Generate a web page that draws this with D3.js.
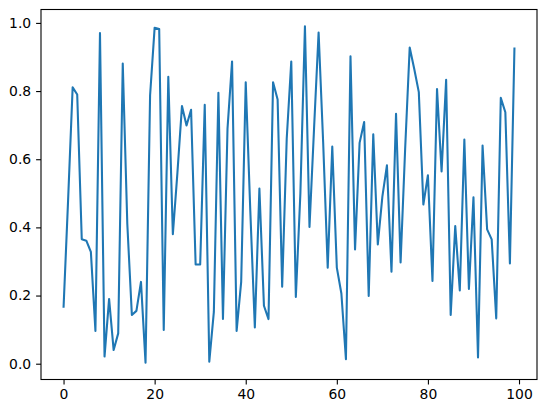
<!DOCTYPE html>
<html>
<head>
<meta charset="utf-8">
<script src="https://cdn.jsdelivr.net/npm/d3@7"></script>
<style>
  html, body { margin: 0; padding: 0; background: #fff; }
  svg { display: block; }
  text { font-family: "DejaVu Sans", sans-serif; font-size: 13.9px; fill: #000; }
</style>
</head>
<body>
<svg id="chart" width="547" height="413"></svg>
<script>
// Data (index 0..99)
const xValues = d3.range(100);
const yValues = [
  0.164, 0.48, 0.811, 0.790, 0.365, 0.361, 0.328, 0.096, 0.970, 0.021,
  0.190, 0.040, 0.089, 0.881, 0.41, 0.143, 0.155, 0.240, 0.003, 0.787,
  0.986, 0.982, 0.099, 0.842, 0.380, 0.56, 0.756, 0.699, 0.745, 0.291,
  0.291, 0.760, 0.006, 0.152, 0.795, 0.131, 0.69, 0.887, 0.096, 0.240,
  0.826, 0.45, 0.106, 0.514, 0.170, 0.131, 0.826, 0.775, 0.226, 0.66,
  0.887, 0.196, 0.50, 0.990, 0.401, 0.69, 0.972, 0.65, 0.282, 0.637,
  0.282, 0.206, 0.013, 0.902, 0.335, 0.648, 0.709, 0.199, 0.673, 0.350,
  0.49, 0.582, 0.270, 0.733, 0.297, 0.63, 0.928, 0.865, 0.797, 0.467,
  0.553, 0.243, 0.806, 0.564, 0.833, 0.143, 0.404, 0.215, 0.658, 0.219,
  0.488, 0.018, 0.640, 0.394, 0.365, 0.133, 0.780, 0.738, 0.294, 0.928
];
const xTicks = [0, 20, 40, 60, 80, 100];
const yTicks = [0.0, 0.2, 0.4, 0.6, 0.8, 1.0];

const mLeft = 41, mTop = 9.5, plotW = 496, plotH = 370;
const svg = d3.select("#chart");

function padded(ext) {
  const r = ext[1] - ext[0];
  return [ext[0] - 0.05 * r, ext[1] + 0.05 * r];
}
const x = d3.scaleLinear().domain(padded(d3.extent(xValues))).range([mLeft, mLeft + plotW]);
const y = d3.scaleLinear().domain(padded(d3.extent(yValues))).range([mTop + plotH, mTop]);

const line = d3.line().x((d, i) => x(xValues[i])).y(d => y(d));
svg.append("path")
  .datum(yValues)
  .attr("d", line)
  .attr("fill", "none")
  .attr("stroke", "#1f77b4")
  .attr("stroke-width", 2.08)
  .attr("stroke-linejoin", "round")
  .attr("stroke-linecap", "butt");

// frame
svg.append("rect")
  .attr("x", mLeft).attr("y", mTop).attr("width", plotW).attr("height", plotH)
  .attr("fill", "none").attr("stroke", "#000").attr("stroke-width", 1.1);

const xAxis = d3.axisBottom(x).tickValues(xTicks).tickSize(4.9).tickPadding(4.9).tickFormat(d3.format("d"));
const gx = svg.append("g").attr("transform", `translate(0,${mTop + plotH})`).call(xAxis);
const yAxis = d3.axisLeft(y).tickValues(yTicks).tickSize(4.9).tickPadding(4.9).tickFormat(d3.format(".1f"));
const gy = svg.append("g").attr("transform", `translate(${mLeft},0)`).call(yAxis);

[gx, gy].forEach(g => {
  g.select(".domain").remove();
  g.selectAll(".tick line").attr("stroke", "#000").attr("stroke-width", 1.1);
  g.selectAll(".tick text").attr("font-family", "DejaVu Sans").attr("font-size", 13.9).attr("fill", "#000");
});
</script>
</body>
</html>
